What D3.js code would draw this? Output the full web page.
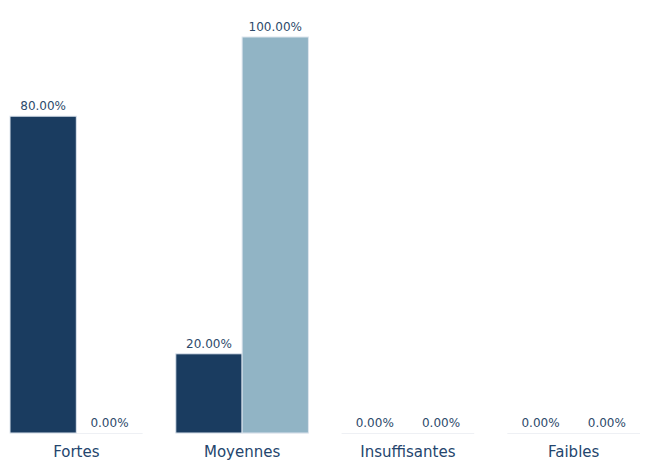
<!DOCTYPE html>
<html>
<head>
<meta charset="utf-8">
<script src="https://cdn.jsdelivr.net/npm/d3@7"></script>
<style>
  body { margin: 0; background: #fff; }
  text { font-family: "DejaVu Sans", sans-serif; }
</style>
</head>
<body>
<div id="chart"></div>
<script>
const categories = ["Fortes", "Moyennes", "Insuffisantes", "Faibles"]
const seriesNames = ["serie1", "serie2"]
const serie1 = [80, 20, 0, 0]
const serie2 = [0, 100, 0, 0]
const colors = ["#1a3c60", "#91b4c5"]

const width = 653
const height = 462
const baseY = 433
const topY = 37

const svg = d3.select("#chart")
  .append("svg")
  .attr("width", width)
  .attr("height", height)

const xScale = d3.scaleBand()
  .domain(categories)
  .range([10, 640])
  .paddingInner(0.2)
  .paddingOuter(0)

const subScale = d3.scaleBand()
  .domain(seriesNames)
  .range([0, xScale.bandwidth()])

const yScale = d3.scaleLinear()
  .domain([0, 100])
  .range([baseY, topY])

const rows = categories.map((c, i) => ({cat: c, values: [serie1[i], serie2[i]]}))

// thin baseline under each group
svg.selectAll("line.base")
  .data(categories)
  .enter()
  .append("line")
  .attr("class", "base")
  .attr("x1", d => xScale(d))
  .attr("x2", d => xScale(d) + xScale.bandwidth())
  .attr("y1", baseY + 0.5)
  .attr("y2", baseY + 0.5)
  .attr("stroke", "#eef0f4")
  .attr("stroke-width", 1)

const groups = svg.selectAll("g.grp")
  .data(rows)
  .enter()
  .append("g")
  .attr("class", "grp")
  .attr("transform", d => `translate(${xScale(d.cat)},0)`)

groups.selectAll("rect")
  .data(d => d.values.map((v, j) => ({key: seriesNames[j], v: v, j: j})))
  .enter()
  .append("rect")
  .filter(d => d.v > 0)
  .attr("x", d => subScale(d.key))
  .attr("y", d => yScale(d.v))
  .attr("width", subScale.bandwidth())
  .attr("height", d => baseY - yScale(d.v))
  .attr("fill", d => colors[d.j])
  .attr("stroke", "#dde5ee")
  .attr("stroke-width", 1)

groups.selectAll("text.val")
  .data(d => d.values.map((v, j) => ({key: seriesNames[j], v: v})))
  .enter()
  .append("text")
  .attr("class", "val")
  .attr("x", d => subScale(d.key) + subScale.bandwidth() / 2)
  .attr("y", d => yScale(d.v) - 6)
  .attr("text-anchor", "middle")
  .attr("font-size", "12px")
  .attr("fill", "#2d4a6b")
  .text(d => d.v.toFixed(2) + "%")

const xAxis = d3.axisBottom(xScale).tickSize(0).tickPadding(13)

const gx = svg.append("g")
  .attr("id", "x-axis")
  .attr("transform", `translate(0,${baseY})`)
  .call(xAxis)
gx.select(".domain").remove()
gx.selectAll("text")
  .attr("font-size", "15px")
  .attr("font-family", "DejaVu Sans, sans-serif")
  .attr("fill", "#24456d")
</script>
</body>
</html>
